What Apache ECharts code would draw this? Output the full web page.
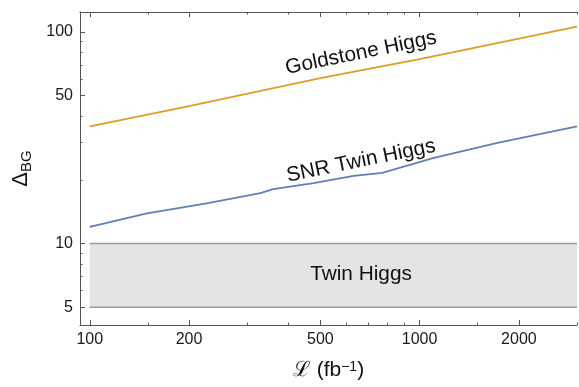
<!DOCTYPE html>
<html>
<head>
<meta charset="utf-8">
<script src="https://cdn.jsdelivr.net/npm/echarts@6.0.0/dist/echarts.min.js"></script>
<style>
  html, body { margin: 0; padding: 0; background: #fff; }
  #main { width: 579px; height: 387px; }
</style>
</head>
<body>
<div id="main"></div>
<script>
// luminosity (fb^-1) and Delta_BG
var snrLumi = [100, 149, 226, 329, 360, 477, 631, 770, 1105, 1722, 3000];
var snrTwin = [12.0, 13.9, 15.5, 17.3, 18.1, 19.3, 20.9, 21.6, 25.4, 29.9, 35.8];
var goldLumi = [100, 200, 500, 1000, 2000, 3000];
var goldstone = [35.8, 44.6, 60.5, 74.5, 93, 106];
var twinBandX = [100, 3000];
var twinBandY = [5, 10];

// tick marks
var xMajor = [100, 200, 500, 1000, 2000];
var xMinor = [150, 300, 400, 600, 700, 800, 900, 1500, 3000];
var yMajor = [5, 10, 50, 100];
var yMinor = [6, 7, 8, 9, 20, 30, 40, 60, 70, 80, 90];

var xMin = 93.4, xMax = 3000;
var yMin = 4.12, yMax = 124.3;

var FONT = "'Liberation Sans', Arial, sans-serif";
var frameColor = '#555';

function lg(v) { return Math.log10(v); }
function pairs(xs, ys) { return xs.map(function (x, i) { return [x, ys[i]]; }); }
function fmt(v) { return String(Math.round(Math.pow(10, v))); }

// value axes in log10 space only carry the ticks/labels, series live on the log axes
function tickAxis(pos, vals, len, labels, extra) {
    var ax = {
        type: 'value',
        position: pos,
        min: pos === 'left' ? lg(yMin) : lg(xMin),
        max: pos === 'left' ? lg(yMax) : lg(xMax),
        axisLine: { show: false },
        splitLine: { show: false },
        axisTick: { show: true, inside: true, length: len, customValues: vals.map(lg),
                    lineStyle: { color: frameColor, width: 1 } },
        axisLabel: { show: labels, customValues: vals.map(lg), formatter: fmt,
                     fontFamily: FONT, fontSize: 16, color: '#1a1a1a', margin: 7 }
    };
    for (var k in extra) ax[k] = extra[k];
    return ax;
}

var chart = echarts.init(document.getElementById('main'), null, { renderer: 'canvas' });

var option = {
    animation: false,
    backgroundColor: '#fff',
    grid: { left: 80, right: 2, top: 12, bottom: 62, containLabel: false },
    xAxis: [
        { type: 'log', logBase: 10, min: xMin, max: xMax, position: 'bottom',
          axisLine: { show: true, onZero: false, lineStyle: { color: frameColor, width: 1 } },
          axisTick: { show: false }, axisLabel: { show: false }, splitLine: { show: false } },
        tickAxis('bottom', xMajor, 5, true, {
            name: '{a|ℒ (fb}{sup|−1}{a|)}',
            nameLocation: 'middle',
            nameGap: 35,
            nameTextStyle: {
                rich: {
                    a: { fontFamily: FONT, fontSize: 21, color: '#111' },
                    sup: { fontFamily: FONT, fontSize: 14, color: '#111', verticalAlign: 'top', lineHeight: 20 }
                }
            }
        }),
        tickAxis('bottom', xMinor, 2.5, false, {}),
        tickAxis('top', xMajor, 5, false, {
            axisLine: { show: true, onZero: false, lineStyle: { color: frameColor, width: 1 } }
        }),
        tickAxis('top', xMinor, 2.5, false, {})
    ],
    yAxis: [
        { type: 'log', logBase: 10, min: yMin, max: yMax, position: 'left',
          axisLine: { show: true, onZero: false, lineStyle: { color: frameColor, width: 1 } },
          axisTick: { show: false }, axisLabel: { show: false }, splitLine: { show: false } },
        tickAxis('left', yMajor, 5, true, {
            name: '{d|Δ}{s|BG}',
            nameLocation: 'middle',
            nameRotate: 90,
            nameGap: 46,
            nameTextStyle: {
                rich: {
                    d: { fontFamily: FONT, fontSize: 22, color: '#111', lineHeight: 26, verticalAlign: 'middle' },
                    s: { fontFamily: FONT, fontSize: 15, color: '#111', lineHeight: 15, verticalAlign: 'bottom' }
                }
            }
        }),
        tickAxis('left', yMinor, 2.5, false, {})
    ],
    series: [
        {
            name: 'Twin Higgs band',
            type: 'line',
            xAxisIndex: 0, yAxisIndex: 0,
            data: pairs(twinBandX, [twinBandY[1], twinBandY[1]]),
            symbol: 'none',
            lineStyle: { color: '#9a9a9a', width: 1.6 },
            z: 1,
            markArea: {
                silent: true,
                itemStyle: { color: '#e4e4e4' },
                data: [[{ coord: [twinBandX[0], twinBandY[0]] }, { coord: [twinBandX[1], twinBandY[1]] }]]
            }
        },
        {
            name: 'Twin Higgs low',
            type: 'line',
            xAxisIndex: 0, yAxisIndex: 0,
            data: pairs(twinBandX, [twinBandY[0], twinBandY[0]]),
            symbol: 'none',
            lineStyle: { color: '#9a9a9a', width: 1.6 },
            z: 2
        },
        {
            name: 'Goldstone Higgs',
            type: 'line',
            xAxisIndex: 0, yAxisIndex: 0,
            data: pairs(goldLumi, goldstone),
            symbol: 'none',
            lineStyle: { color: '#E09C24', width: 1.8 },
            z: 3
        },
        {
            name: 'SNR Twin Higgs',
            type: 'line',
            xAxisIndex: 0, yAxisIndex: 0,
            data: pairs(snrLumi, snrTwin),
            symbol: 'none',
            lineStyle: { color: '#5E81B5', width: 1.8 },
            z: 3
        }
    ],
    graphic: [
        { type: 'text', x: 361, y: 53, rotation: 11.5 * Math.PI / 180, z: 10,
          style: { text: 'Goldstone Higgs', fontFamily: FONT, fontSize: 20.8, fill: '#111', align: 'center', verticalAlign: 'middle' } },
        { type: 'text', x: 361, y: 161, rotation: 11.5 * Math.PI / 180, z: 10,
          style: { text: 'SNR Twin Higgs', fontFamily: FONT, fontSize: 20.8, fill: '#111', align: 'center', verticalAlign: 'middle' } },
        { type: 'text', x: 361, y: 274, z: 10,
          style: { text: 'Twin Higgs', fontFamily: FONT, fontSize: 20.8, fill: '#111', align: 'center', verticalAlign: 'middle' } }
    ]
};

chart.setOption(option);
</script>
</body>
</html>
